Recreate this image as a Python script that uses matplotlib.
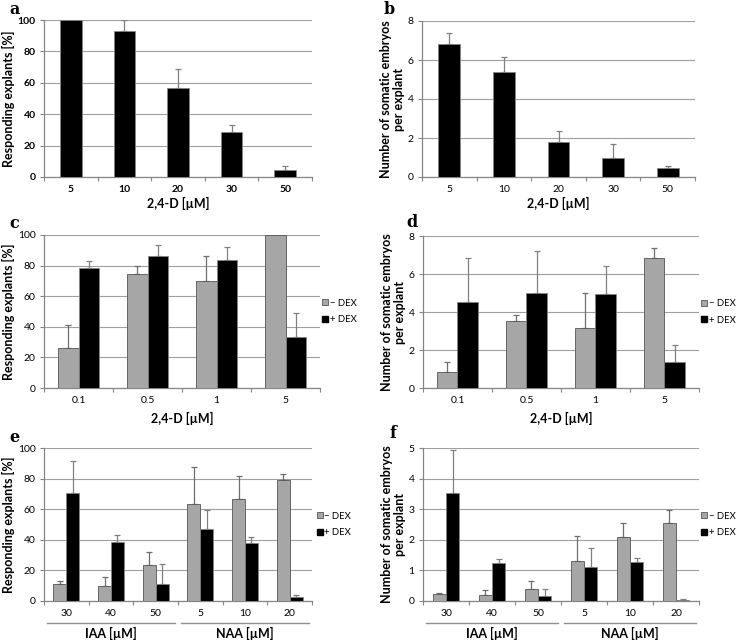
import numpy as np
import matplotlib
matplotlib.use('Agg')
import matplotlib.pyplot as plt
from matplotlib.lines import Line2D

plt.rcParams['font.family'] = ['Lato', 'DejaVu Sans']

# panel a / b : 2,4-D alone
ab_labels = ['5', '10', '20', '30', '50']
a_vals = [100, 93.2, 56.4, 28.7, 4.7]
a_err = [0, 6.8, 12.5, 4.3, 2.5]
b_vals = [6.8, 5.37, 1.79, 0.97, 0.48]
b_err = [0.6, 0.8, 0.55, 0.72, 0.1]

# panel c / d : 2,4-D with / without DEX
cd_labels = ['0.1', '0.5', '1', '5']
c_minus = [26.4, 74.5, 70.1, 100]
c_minus_err = [15.1, 5.0, 16.4, 0]
c_plus = [78.6, 86.5, 83.4, 33.4]
c_plus_err = [4.4, 6.9, 8.6, 15.3]
d_minus = [0.82, 3.51, 3.18, 6.84]
d_minus_err = [0.55, 0.35, 1.84, 0.55]
d_plus = [4.53, 5.0, 4.93, 1.37]
d_plus_err = [2.31, 2.19, 1.51, 0.91]

# panel e / f : IAA and NAA with / without DEX
ef_labels = ['30', '40', '50', '5', '10', '20']
ef_groups = ['IAA [µM]', 'NAA [µM]']
e_minus = [11.4, 9.8, 23.4, 63.2, 66.5, 79.0]
e_minus_err = [1.7, 6.0, 8.8, 24.1, 15.5, 3.9]
e_plus = [70.9, 38.7, 11.2, 46.8, 37.6, 2.6]
e_plus_err = [20.3, 4.2, 13.1, 12.7, 4.0, 1.6]
f_minus = [0.23, 0.21, 0.38, 1.31, 2.1, 2.54]
f_minus_err = [0.04, 0.14, 0.28, 0.81, 0.44, 0.42]
f_plus = [3.52, 1.25, 0.16, 1.12, 1.27, 0.02]
f_plus_err = [1.43, 0.11, 0.24, 0.61, 0.12, 0.03]

W, H = 738, 641
fig = plt.figure(figsize=(W / 100, H / 100), dpi=100)

GRAY = '#a6a6a6'
EDGE = '#868686'
ERR = '#808080'


def px_axes(x0, y0, x1, y1):
    return fig.add_axes([x0 / W, 1 - y1 / H, (x1 - x0) / W, (y1 - y0) / H])


def style(ax, ymax, ystep, ylabel, tick_bold=False):
    ax.set_ylim(0, ymax)
    ax.set_yticks(np.arange(0, ymax + 0.01, ystep))
    ax.yaxis.grid(True, color='#a0a0a0', linewidth=0.8)
    ax.set_axisbelow(True)
    for s in ['top', 'right']:
        ax.spines[s].set_visible(False)
    for s in ['left', 'bottom']:
        ax.spines[s].set_color(EDGE)
        ax.spines[s].set_linewidth(0.9)
    ax.tick_params(axis='y', length=3, width=0.8, color=EDGE, labelsize=7.5, pad=3)
    ax.tick_params(axis='x', which='major', length=0, labelsize=7.5, pad=6)
    ax.tick_params(axis='x', which='minor', length=3, width=0.8, color=EDGE)
    ax.set_ylabel(ylabel, fontsize=9, fontweight='bold', labelpad=2, linespacing=1.05)
    if tick_bold:
        for t in ax.get_xticklabels() + ax.get_yticklabels():
            t.set_fontweight('bold')


def single(ax, labels, vals, errs):
    x = np.arange(len(labels))
    ax.bar(x, vals, width=0.4, color='black', edgecolor=EDGE, linewidth=0.6, zorder=3)
    ax.errorbar(x, vals, yerr=[np.zeros(len(errs)), errs], fmt='none', ecolor=ERR,
                elinewidth=0.9, capsize=2, capthick=0.9, zorder=2)
    ax.set_xlim(-0.5, len(labels) - 0.5)
    ax.set_xticks(x)
    ax.set_xticklabels(labels)
    ax.set_xticks(np.arange(-0.5, len(labels)), minor=True)


def paired(ax, labels, mv, me, pv, pe, w=0.29):
    x = np.arange(len(labels))
    ax.bar(x - w / 2, mv, width=w, color=GRAY, edgecolor='#555555', linewidth=0.6, zorder=3)
    ax.bar(x + w / 2, pv, width=w, color='black', edgecolor=EDGE, linewidth=0.6, zorder=3)
    ax.errorbar(x - w / 2, mv, yerr=[np.zeros(len(me)), me], fmt='none', ecolor='#6e6e6e',
                elinewidth=0.9, capsize=2, capthick=0.9, zorder=2)
    ax.errorbar(x + w / 2, pv, yerr=[np.zeros(len(pe)), pe], fmt='none', ecolor=ERR,
                elinewidth=0.9, capsize=2, capthick=0.9, zorder=2)
    ax.set_xlim(-0.5, len(labels) - 0.5)
    ax.set_xticks(x)
    ax.set_xticklabels(labels)
    ax.set_xticks(np.arange(-0.5, len(labels)), minor=True)


def legend(ax, xoff):
    handles = [Line2D([], [], marker='s', ls='none', markersize=5, markerfacecolor=GRAY,
                      markeredgecolor='#555555', markeredgewidth=0.6),
               Line2D([], [], marker='s', ls='none', markersize=5, markerfacecolor='black',
                      markeredgecolor='black')]
    ax.legend(handles, ['− DEX', '+ DEX'], loc='center left', bbox_to_anchor=(xoff, 0.5),
              frameon=False, fontsize=6.8, handlelength=0.5, handletextpad=0.25,
              labelspacing=0.8, borderaxespad=0, borderpad=0)


def letter(x, y, s):
    fig.text(x / W, 1 - y / H, s, fontsize=11.5, fontweight='bold',
             family=['DejaVu Serif'], ha='left', va='center')


ylab1 = 'Responding explants [%]'
ylab2 = 'Number of somatic embryos\nper explant'

# a
ax = px_axes(44, 20, 312, 177)
single(ax, ab_labels, a_vals, a_err)
style(ax, 100, 20, ylab1, tick_bold=True)
ax.set_xlabel('2,4-D [µM]', fontsize=9, fontweight='bold', labelpad=2)
letter(9, 9, 'a')

# b
ax = px_axes(422, 21, 695, 177)
single(ax, ab_labels, b_vals, b_err)
style(ax, 8, 2, ylab2)
ax.set_xlabel('2,4-D [µM]', fontsize=9, fontweight='bold', labelpad=2)
letter(384, 9, 'b')

# c
ax = px_axes(44, 235, 320, 388)
paired(ax, cd_labels, c_minus, c_minus_err, c_plus, c_plus_err)
style(ax, 100, 20, ylab1)
ax.set_xlabel('2,4-D [µM]', fontsize=9, fontweight='bold', labelpad=5)
legend(ax, 1.01)
letter(9, 223, 'c')

# d
ax = px_axes(423, 236, 699, 388)
paired(ax, cd_labels, d_minus, d_minus_err, d_plus, d_plus_err)
style(ax, 8, 2, ylab2)
ax.set_xlabel('2,4-D [µM]', fontsize=9, fontweight='bold', labelpad=5)
legend(ax, 1.01)
letter(406, 222, 'd')

# e and f
for pos, mv, me, pv, pe, ymax, ystep, ylab, let, lpos, loff in [
        ((44, 448, 312, 601), e_minus, e_minus_err, e_plus, e_plus_err, 100, 20, ylab1, 'e', (9, 437), 0.02),
        ((423, 448, 699, 601), f_minus, f_minus_err, f_plus, f_plus_err, 5, 1, ylab2, 'f', (389, 434), 0.01)]:
    ax = px_axes(*pos)
    paired(ax, ef_labels, mv, me, pv, pe)
    style(ax, ymax, ystep, ylab)
    legend(ax, 1 + loff)
    letter(*lpos, let)
    tr = ax.get_xaxis_transform()
    for gi, name in enumerate(ef_groups):
        lo, hi = gi * 3 - 0.5, gi * 3 + 2.5
        ax.plot([lo + 0.06, hi - 0.06], [-0.145, -0.145], transform=tr, color='#909090',
                lw=1.0, clip_on=False)
        ax.text((lo + hi) / 2, -0.215, name, transform=tr, ha='center', va='center',
                fontsize=9, fontweight='bold')

fig.savefig('out.png', dpi=100)
